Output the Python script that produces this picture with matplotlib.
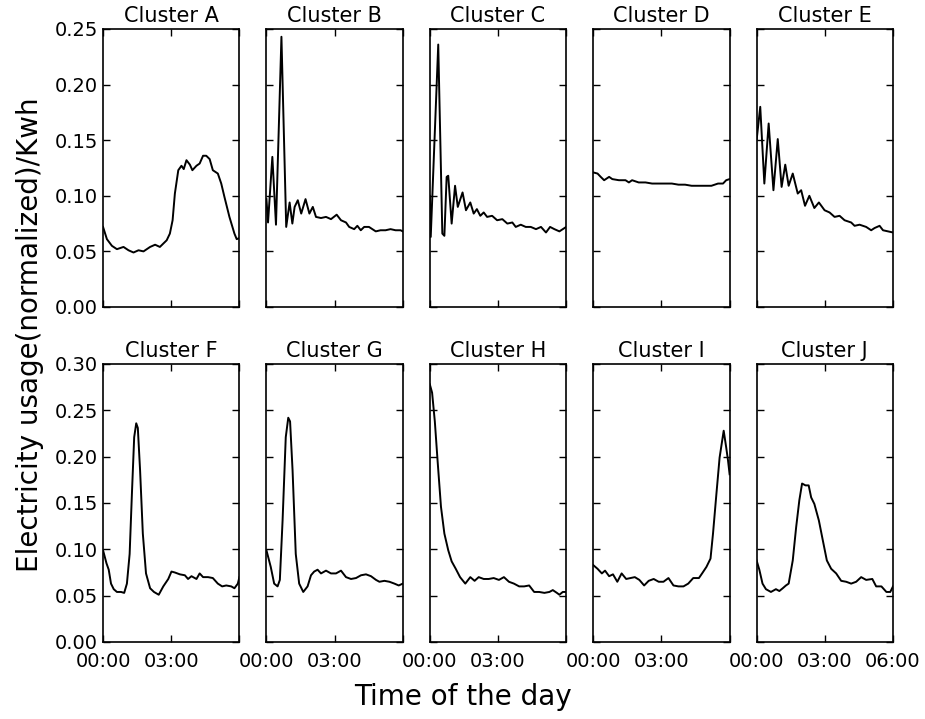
import numpy as np
import matplotlib
matplotlib.use('Agg')
import matplotlib.pyplot as plt

# hours since midnight and normalized usage
t_a = [0.00, 0.17, 0.39, 0.61, 0.90, 1.12, 1.34, 1.56, 1.78, 2.07, 2.29, 2.50, 2.80, 2.94, 3.06, 3.16, 3.31, 3.45,
       3.55, 3.67, 3.82, 3.93, 4.11, 4.25, 4.40, 4.54, 4.69, 4.83, 5.05, 5.20, 5.34, 5.56, 5.78, 5.88, 6.00]
v_a = [0.072, 0.061, 0.055, 0.052, 0.054, 0.051, 0.049, 0.051, 0.050, 0.054, 0.056, 0.054, 0.060, 0.066, 0.078,
       0.102, 0.123, 0.127, 0.124, 0.132, 0.128, 0.123, 0.127, 0.129, 0.136, 0.136, 0.133, 0.123, 0.120, 0.111,
       0.099, 0.081, 0.066, 0.061, 0.062]

t_b = [0.00, 0.07, 0.26, 0.42, 0.66, 0.87, 1.02, 1.14, 1.24, 1.38, 1.53, 1.72, 1.89, 2.04, 2.18, 2.40, 2.62, 2.84,
       3.09, 3.28, 3.50, 3.64, 3.86, 4.00, 4.15, 4.30, 4.51, 4.81, 5.02, 5.24, 5.46, 5.68, 5.90, 6.00]
v_b = [0.097, 0.076, 0.135, 0.074, 0.243, 0.072, 0.094, 0.075, 0.090, 0.096, 0.084, 0.097, 0.084, 0.090, 0.081,
       0.080, 0.081, 0.079, 0.083, 0.078, 0.076, 0.072, 0.070, 0.073, 0.069, 0.072, 0.072, 0.068, 0.069, 0.069,
       0.070, 0.069, 0.069, 0.068]

t_c = [0.00, 0.04, 0.37, 0.55, 0.64, 0.74, 0.81, 0.96, 1.11, 1.23, 1.44, 1.59, 1.78, 1.93, 2.07, 2.22, 2.37, 2.52,
       2.74, 2.96, 3.19, 3.41, 3.63, 3.78, 4.00, 4.22, 4.44, 4.67, 4.89, 5.11, 5.29, 5.48, 5.70, 5.85, 6.00]
v_c = [0.100, 0.063, 0.236, 0.066, 0.064, 0.117, 0.118, 0.075, 0.109, 0.090, 0.103, 0.087, 0.094, 0.084, 0.088,
       0.082, 0.085, 0.081, 0.082, 0.078, 0.079, 0.075, 0.076, 0.072, 0.074, 0.072, 0.072, 0.070, 0.072, 0.067,
       0.072, 0.070, 0.068, 0.070, 0.072]

t_d = [0.00, 0.19, 0.33, 0.48, 0.70, 0.84, 1.13, 1.42, 1.57, 1.71, 2.00, 2.30, 2.59, 2.88, 3.17, 3.46, 3.75, 4.04,
       4.33, 4.62, 4.91, 5.20, 5.49, 5.71, 5.85, 6.00]
v_d = [0.121, 0.120, 0.117, 0.114, 0.117, 0.115, 0.114, 0.114, 0.112, 0.114, 0.112, 0.112, 0.111, 0.111, 0.111,
       0.111, 0.110, 0.110, 0.109, 0.109, 0.109, 0.109, 0.111, 0.111, 0.114, 0.115]

t_e = [0.00, 0.16, 0.34, 0.53, 0.74, 0.93, 1.10, 1.26, 1.41, 1.59, 1.81, 1.96, 2.13, 2.32, 2.54, 2.74, 2.99, 3.21,
       3.43, 3.65, 3.87, 4.16, 4.31, 4.53, 4.82, 5.04, 5.19, 5.41, 5.56, 5.78, 6.00]
v_e = [0.150, 0.180, 0.111, 0.165, 0.105, 0.151, 0.108, 0.128, 0.109, 0.120, 0.102, 0.105, 0.091, 0.100, 0.089,
       0.094, 0.087, 0.085, 0.081, 0.082, 0.078, 0.076, 0.073, 0.074, 0.072, 0.069, 0.071, 0.073, 0.069, 0.068,
       0.067]

t_f = [0.00, 0.15, 0.25, 0.35, 0.47, 0.61, 0.79, 0.93, 1.05, 1.17, 1.27, 1.37, 1.46, 1.53, 1.63, 1.75, 1.89, 2.07,
       2.24, 2.45, 2.65, 2.87, 3.01, 3.16, 3.38, 3.60, 3.74, 3.89, 4.11, 4.25, 4.40, 4.62, 4.83, 5.05, 5.24, 5.42,
       5.64, 5.78, 5.93, 6.00]
v_f = [0.099, 0.085, 0.078, 0.063, 0.057, 0.054, 0.054, 0.053, 0.063, 0.095, 0.160, 0.221, 0.236, 0.231, 0.185,
       0.117, 0.074, 0.058, 0.054, 0.051, 0.060, 0.068, 0.076, 0.075, 0.073, 0.072, 0.068, 0.071, 0.068, 0.074,
       0.070, 0.070, 0.069, 0.063, 0.060, 0.061, 0.060, 0.058, 0.063, 0.070]

t_g = [0.00, 0.19, 0.34, 0.49, 0.59, 0.71, 0.85, 0.96, 1.04, 1.15, 1.29, 1.44, 1.62, 1.81, 1.96, 2.10, 2.25, 2.40,
       2.62, 2.84, 3.06, 3.28, 3.50, 3.72, 3.94, 4.16, 4.38, 4.60, 4.82, 4.97, 5.19, 5.41, 5.63, 5.82, 6.00]
v_g = [0.099, 0.081, 0.063, 0.060, 0.067, 0.131, 0.221, 0.242, 0.238, 0.185, 0.095, 0.063, 0.054, 0.060, 0.072,
       0.076, 0.078, 0.074, 0.077, 0.074, 0.074, 0.077, 0.070, 0.068, 0.069, 0.072, 0.073, 0.071, 0.067, 0.065,
       0.066, 0.065, 0.063, 0.061, 0.063]

t_h = [0.00, 0.10, 0.22, 0.34, 0.49, 0.64, 0.81, 0.96, 1.14, 1.33, 1.56, 1.78, 1.97, 2.15, 2.37, 2.59, 2.81, 3.04,
       3.26, 3.48, 3.70, 3.93, 4.15, 4.37, 4.59, 4.81, 5.04, 5.26, 5.41, 5.59, 5.70, 5.85, 6.00]
v_h = [0.278, 0.269, 0.238, 0.196, 0.146, 0.117, 0.099, 0.087, 0.079, 0.070, 0.063, 0.070, 0.066, 0.070, 0.068,
       0.068, 0.069, 0.067, 0.070, 0.065, 0.063, 0.060, 0.060, 0.061, 0.054, 0.054, 0.053, 0.054, 0.056, 0.053,
       0.051, 0.054, 0.054]

t_i = [0.00, 0.19, 0.38, 0.52, 0.70, 0.87, 1.06, 1.25, 1.45, 1.64, 1.83, 2.03, 2.24, 2.44, 2.66, 2.88, 3.09, 3.31,
       3.53, 3.75, 3.97, 4.18, 4.40, 4.65, 4.79, 4.98, 5.16, 5.27, 5.42, 5.56, 5.74, 5.85, 5.93, 6.00]
v_i = [0.083, 0.079, 0.074, 0.077, 0.071, 0.073, 0.065, 0.074, 0.068, 0.069, 0.070, 0.067, 0.061, 0.066, 0.068,
       0.065, 0.065, 0.069, 0.061, 0.060, 0.060, 0.063, 0.069, 0.069, 0.074, 0.081, 0.090, 0.117, 0.160, 0.199,
       0.228, 0.210, 0.196, 0.181]

t_j = [0.00, 0.12, 0.26, 0.41, 0.63, 0.85, 1.00, 1.15, 1.29, 1.41, 1.59, 1.74, 1.88, 2.00, 2.15, 2.29, 2.40, 2.54,
       2.74, 2.91, 3.09, 3.28, 3.50, 3.72, 3.94, 4.16, 4.38, 4.60, 4.82, 5.09, 5.26, 5.49, 5.71, 5.88, 6.00]
v_j = [0.088, 0.078, 0.063, 0.057, 0.054, 0.057, 0.055, 0.058, 0.061, 0.063, 0.088, 0.124, 0.153, 0.171, 0.169,
       0.169, 0.156, 0.149, 0.131, 0.110, 0.088, 0.079, 0.074, 0.066, 0.065, 0.063, 0.065, 0.070, 0.067, 0.068,
       0.060, 0.060, 0.054, 0.054, 0.060]

names = ['Cluster A', 'Cluster B', 'Cluster C', 'Cluster D', 'Cluster E',
         'Cluster F', 'Cluster G', 'Cluster H', 'Cluster I', 'Cluster J']
times = [t_a, t_b, t_c, t_d, t_e, t_f, t_g, t_h, t_i, t_j]
usage = [v_a, v_b, v_c, v_d, v_e, v_f, v_g, v_h, v_i, v_j]

x_ticks = [0, 3, 6]
x_labels = ['00:00', '03:00', '06:00']
top_yticks = [0.00, 0.05, 0.10, 0.15, 0.20, 0.25]
bot_yticks = [0.00, 0.05, 0.10, 0.15, 0.20, 0.25, 0.30]

fig, axes = plt.subplots(2, 5, figsize=(9.25, 7.19), dpi=100, sharey='row')
plt.subplots_adjust(left=0.1114, right=0.9654, top=0.9597, bottom=0.1071, wspace=0.198, hspace=0.205)

for k, ax in enumerate(axes.flat):
    ax.plot(times[k], usage[k], color='black', linewidth=1.4)
    ax.set_title(names[k], fontsize=15, pad=5)
    ax.set_xlim(0, 6)
    ax.set_xticks(x_ticks)
    ax.tick_params(direction='in', top=True, right=True, length=5, width=1, labelsize=14)
    ax.tick_params(axis='x', pad=7)
    for sp in ax.spines.values():
        sp.set_linewidth(1.2)
    row = k // 5
    if row == 0:
        ax.set_ylim(0, 0.25)
        ax.set_yticks(top_yticks)
        ax.set_xticklabels([])
    else:
        ax.set_ylim(0, 0.30)
        ax.set_yticks(bot_yticks)
        if k == 9:
            ax.set_xticklabels(x_labels)
        else:
            ax.set_xticklabels(x_labels[:2] + [''])
    if k % 5 == 0:
        ax.set_yticklabels(['%.2f' % v for v in ax.get_yticks()])
    else:
        ax.tick_params(labelleft=False)

fig.text(0.5, 1 - 697 / 719, 'Time of the day', ha='center', va='center', fontsize=20)
fig.text(30 / 925, 1 - 335 / 719, 'Electricity usage(normalized)/Kwh', ha='center', va='center',
         rotation=90, fontsize=20)

plt.savefig('out.png', dpi=100)
